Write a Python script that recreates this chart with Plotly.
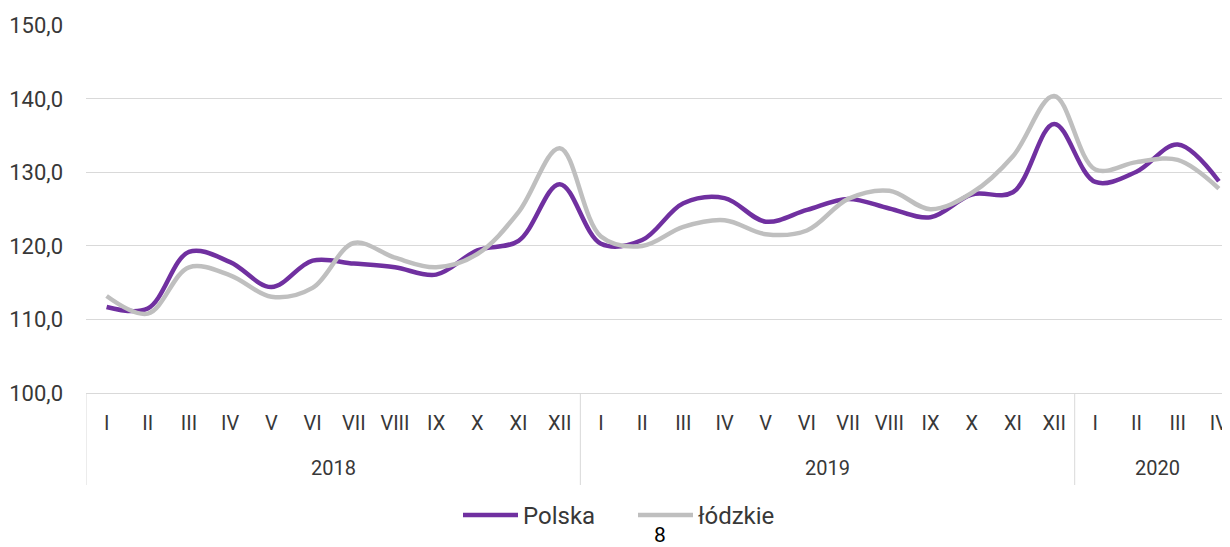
import plotly.graph_objects as go

years = ["2018", "2019", "2020"]
months_per_year = [12, 12, 4]
month_names = ["I", "II", "III", "IV", "V", "VI", "VII", "VIII", "IX", "X", "XI", "XII"]
months = month_names * 2 + month_names[:4]

polska = [111.7, 111.5, 119.2, 117.8, 114.4, 118.0, 117.6, 117.1, 116.1, 119.4, 120.7, 128.4,
          120.3, 120.8, 125.8, 126.5, 123.3, 124.9, 126.4, 125.1, 123.9, 127.0, 127.3, 136.6,
          128.7, 130.1, 133.8, 128.8]
lodzkie = [113.2, 110.8, 117.1, 116.0, 113.1, 114.3, 120.4, 118.4, 117.1, 118.9, 124.6, 133.3,
           121.3, 120.0, 122.6, 123.5, 121.6, 122.1, 126.4, 127.5, 125.0, 127.2, 132.2, 140.4,
           130.4, 131.4, 131.7, 127.8]

yticks = [100, 110, 120, 130, 140, 150]

FONT = "Roboto"
TXT = "#383838"
GRID = "#D9D9D9"

# page body has an 8px margin: figure is offset by (8, 8) in the window
OFF = 8
W, H = 1230 - OFF, 547 - OFF
L, T = 86 - OFF, 25 - OFF
PW, PH = W - L, 368
B = H - T - PH

idx = list(range(len(months)))

fig = go.Figure()
fig.add_trace(go.Scatter(
    x=idx, y=polska, name="Polska", mode="lines",
    line=dict(color="#7030A0", width=4.5, shape="spline", smoothing=1.0),
))
fig.add_trace(go.Scatter(
    x=idx, y=lodzkie, name="łódzkie", mode="lines",
    line=dict(color="#BFBFBF", width=4.5, shape="spline", smoothing=1.0),
))

def py(pix):  # window pixel y -> paper y
    return (393 - pix) / PH

def px(pix):  # window pixel x -> paper x
    return (pix - 86) / PW

annotations = []
shapes = []
start = 0
bounds = [-0.5]
for yr, n in zip(years, months_per_year):
    center = start + (n - 1) / 2
    annotations.append(dict(text=yr, x=center, y=py(468), xref="x", yref="paper",
                            showarrow=False, yanchor="middle",
                            font=dict(family=FONT, size=20, color=TXT)))
    start += n
    bounds.append(start - 0.5)
for b in bounds:
    shapes.append(dict(type="line", xref="x", yref="paper", x0=b, x1=b, y0=0, y1=py(485),
                       line=dict(color=GRID, width=1)))

annotations.append(dict(text="8", x=px(660), y=py(535), xref="paper", yref="paper",
                        showarrow=False, font=dict(family=FONT, size=21, color="#000000"),
                        yanchor="middle"))

fig.update_layout(
    width=W, height=H,
    margin=dict(l=L, r=0, t=T, b=B, pad=0, autoexpand=False),
    paper_bgcolor="white", plot_bgcolor="white",
    separators=", ",
    font=dict(family=FONT, size=20, color=TXT),
    showlegend=True,
    legend=dict(orientation="h", x=px(633), xanchor="center", y=py(515.5), yanchor="middle",
                font=dict(family=FONT, size=24, color=TXT), itemwidth=55, entrywidth=105,
                bgcolor="rgba(0,0,0,0)"),
    annotations=annotations,
    shapes=shapes,
)
fig.update_yaxes(
    range=[100, 150.05], tickvals=yticks, tickformat=".1f", automargin=False,
    showgrid=True, gridcolor=GRID, gridwidth=1, zeroline=False,
    showline=False, ticks="", ticklabelstandoff=22,
    tickfont=dict(family=FONT, size=22, color=TXT),
)
fig.update_xaxes(
    range=[-0.5, 27.27], automargin=False,
    tickvals=idx, ticktext=months,
    showgrid=False, zeroline=False, showline=True, linecolor=GRID, linewidth=1,
    ticks="", ticklabelstandoff=12,
    tickfont=dict(family=FONT, size=20, color=TXT),
)

fig.write_html("out.html")
